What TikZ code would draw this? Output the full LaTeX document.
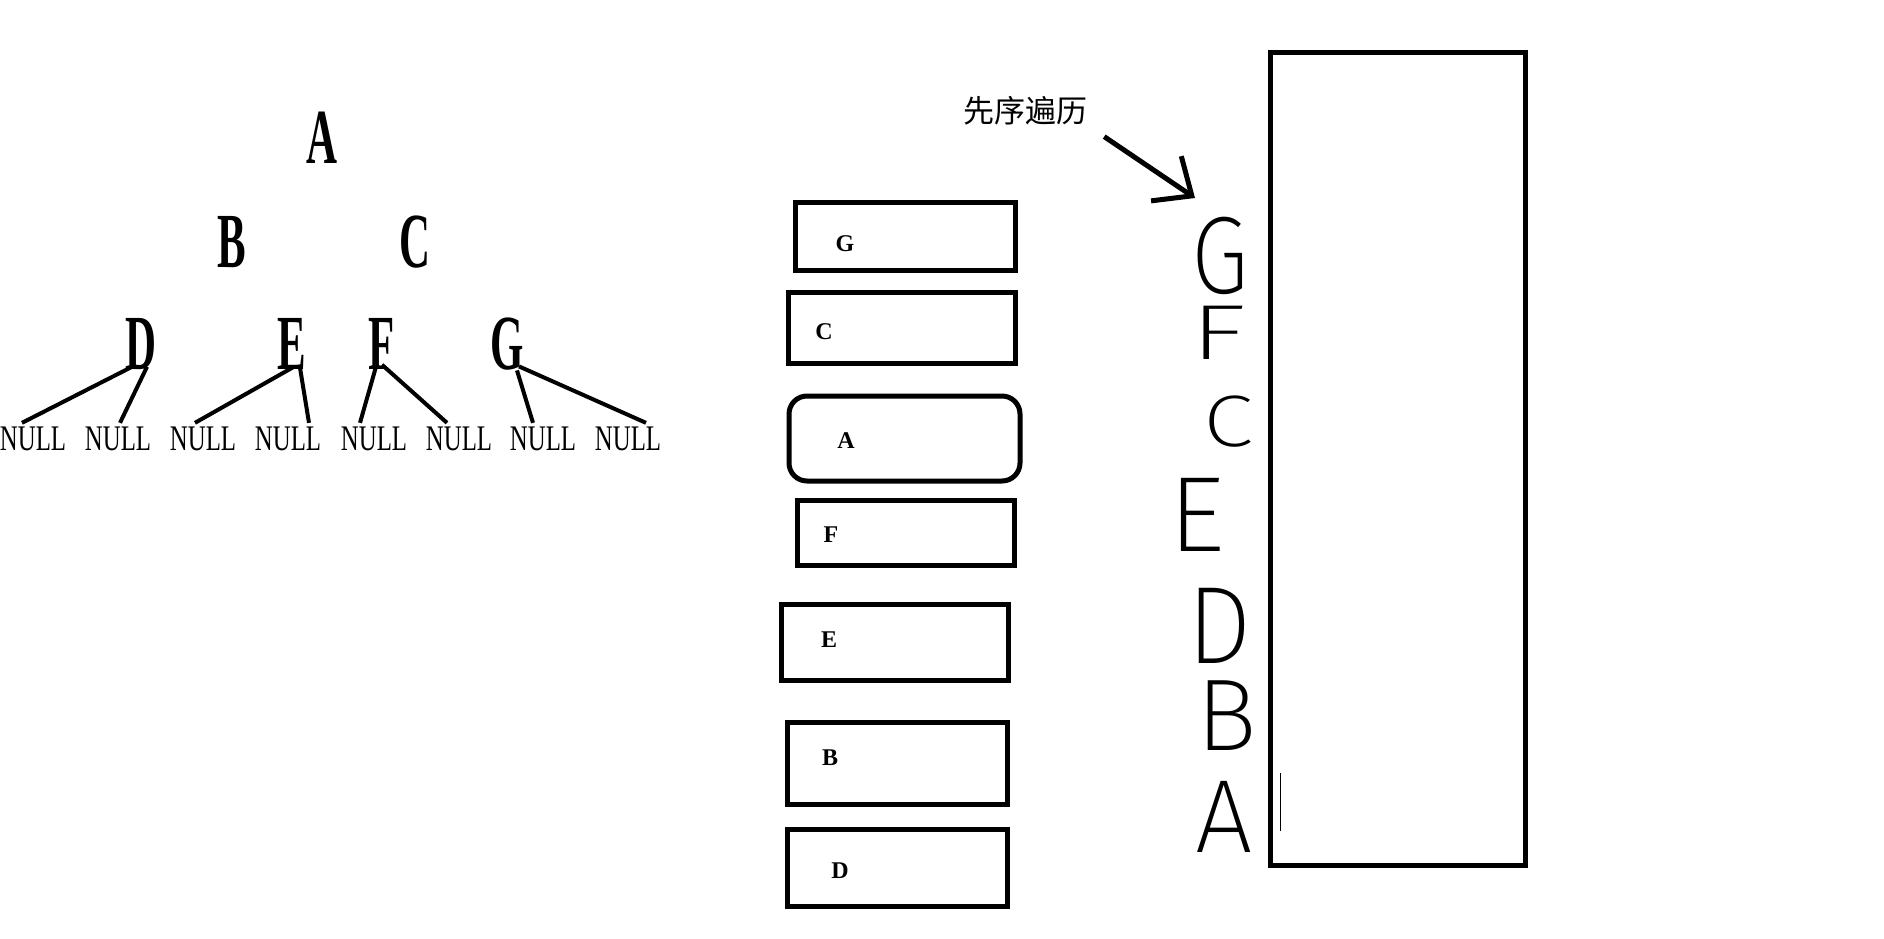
\documentclass[tikz,border=0pt]{standalone}
\usepackage{fontspec}
\setmainfont{Liberation Serif}
\newfontfamily\cjk{Noto Sans CJK SC}
\newfontfamily\treefont[FakeStretch=0.55]{Liberation Serif}
\newfontfamily\leaffont[FakeStretch=0.69]{Liberation Serif}
\IfFontExistsTF{Fira Sans ExtraLight}
  {\newfontfamily\handfont{Fira Sans ExtraLight}}
  {\IfFontExistsTF{Fira Sans Light}
    {\newfontfamily\handfont{Fira Sans Light}}
    {\newfontfamily\handfont{Liberation Sans}}}
\usetikzlibrary{arrows.meta}

\begin{document}
\begin{tikzpicture}[x=1pt,y=-1pt,
  treekey/.style={inner sep=0pt,font=\treefont\bfseries\fontsize{78}{78}\selectfont},
  nullkey/.style={inner sep=0pt,font=\leaffont\fontsize{36}{36}\selectfont},
  branch/.style={line width=4pt},
  slot/.style={draw,line width=5pt,inner sep=0pt},
  slotkey/.style={inner sep=0pt,font=\bfseries\fontsize{24}{24}\selectfont},
  handkey/.style 2 args={inner sep=0pt,font=\handfont\fontsize{#1}{#1}\selectfont\addfontfeature{FakeStretch=#2}},
  pointer/.style={line width=5pt,-{Straight Barb[length=31pt,width=54pt]}}]
  \useasboundingbox (0,0) rectangle (1884,938);

  % the tree
  \node[treekey] (A) at (322,138) {A};
  \node[treekey] (B) at (232,242) {B};
  \node[treekey] (C) at (415,242) {C};
  \node[treekey] (D) at (141,344) {D};
  \node[treekey] (E) at (292,344) {E};
  \node[treekey] (F) at (382,344) {F};
  \node[treekey] (G) at (507,344) {G};
  \node[nullkey] (n1) at (33,439) {NULL};
  \node[nullkey] (n2) at (118,439) {NULL};
  \node[nullkey] (n3) at (203,439) {NULL};
  \node[nullkey] (n4) at (288,439) {NULL};
  \node[nullkey] (n5) at (374,439) {NULL};
  \node[nullkey] (n6) at (459,439) {NULL};
  \node[nullkey] (n7) at (543,439) {NULL};
  \node[nullkey] (n8) at (628,439) {NULL};
  \draw[branch] ([shift={(-9pt,3pt)}]D.south) -- ([shift={(-11pt,4pt)}]n1.north);
  \draw[branch] ([shift={(6pt,3pt)}]D.south) -- ([shift={(2pt,4pt)}]n2.north);
  \draw[branch] ([shift={(2pt,3pt)}]E.south) -- ([shift={(-8pt,4pt)}]n3.north);
  \draw[branch] ([shift={(8pt,2pt)}]E.south) -- ([shift={(21pt,4pt)}]n4.north);
  \draw[branch] ([shift={(-6pt,3pt)}]F.south) -- ([shift={(-14pt,4pt)}]n5.north);
  \draw[branch] ([shift={(0pt,5pt)}]F.south) -- ([shift={(-12pt,4pt)}]n6.north);
  \draw[branch] ([shift={(10pt,0pt)}]G.south) -- ([shift={(-10pt,4pt)}]n7.north);
  \draw[branch] ([shift={(12pt,4pt)}]G.south) -- ([shift={(18pt,4pt)}]n8.north);

  % the stack
  \node[slot,minimum width=220pt,minimum height=68pt] (gbox) at (905,236) {};
  \node[slot,minimum width=227pt,minimum height=71pt] (cbox) at (901.5,327.5) {};
  \node[slot,rounded corners=18pt,minimum width=231pt,minimum height=85pt] (abox) at (904.5,438.5) {};
  \node[slot,minimum width=217pt,minimum height=65pt] (fbox) at (905.5,532.5) {};
  \node[slot,minimum width=227pt,minimum height=76pt] (ebox) at (894.5,642) {};
  \node[slot,minimum width=220pt,minimum height=82pt] (bbox) at (897,763) {};
  \node[slot,minimum width=220pt,minimum height=77pt] (dbox) at (897,867.5) {};
  \node[slotkey] (gkey) at (845,244) {G};
  \node[slotkey] (ckey) at (824,332) {C};
  \node[slotkey] (akey) at (846,441) {A};
  \node[slotkey] (fkey) at (831,535) {F};
  \node[slotkey] (ekey) at (829,640) {E};
  \node[slotkey] (bkey) at (830,758) {B};
  \node[slotkey] (dkey) at (840,871) {D};

  % preorder output
  \node[inner sep=0pt,font=\cjk\fontsize{31}{31}\selectfont] (trav) at (1025,111) {先序遍历};
  \node[handkey={110}{0.85}] (hg) at (1220,256) {G};
  \node[handkey={78}{1.5}] (hf) at (1218,333) {F};
  \node[handkey={73}{1.25}] (hc) at (1228,422) {C};
  \node[handkey={107}{1.05}] (he) at (1197,515) {E};
  \node[handkey={110}{0.93}] (hd) at (1220,626) {D};
  \node[handkey={102}{1.0}] (hb) at (1227,716) {B};
  \node[handkey={104}{0.98}] (ha) at (1224,817) {A};
  \coordinate (tip) at (1195,198);
  \draw[pointer] ([shift={(17pt,-11pt)}]trav.south east) -- (tip);

  \node[draw,line width=5pt,inner sep=0pt,minimum width=255pt,minimum height=813pt] (frame) at (1397.5,458.5) {};
  \draw[line width=1pt] (1280,773) -- (1280,831);
\end{tikzpicture}
\end{document}
